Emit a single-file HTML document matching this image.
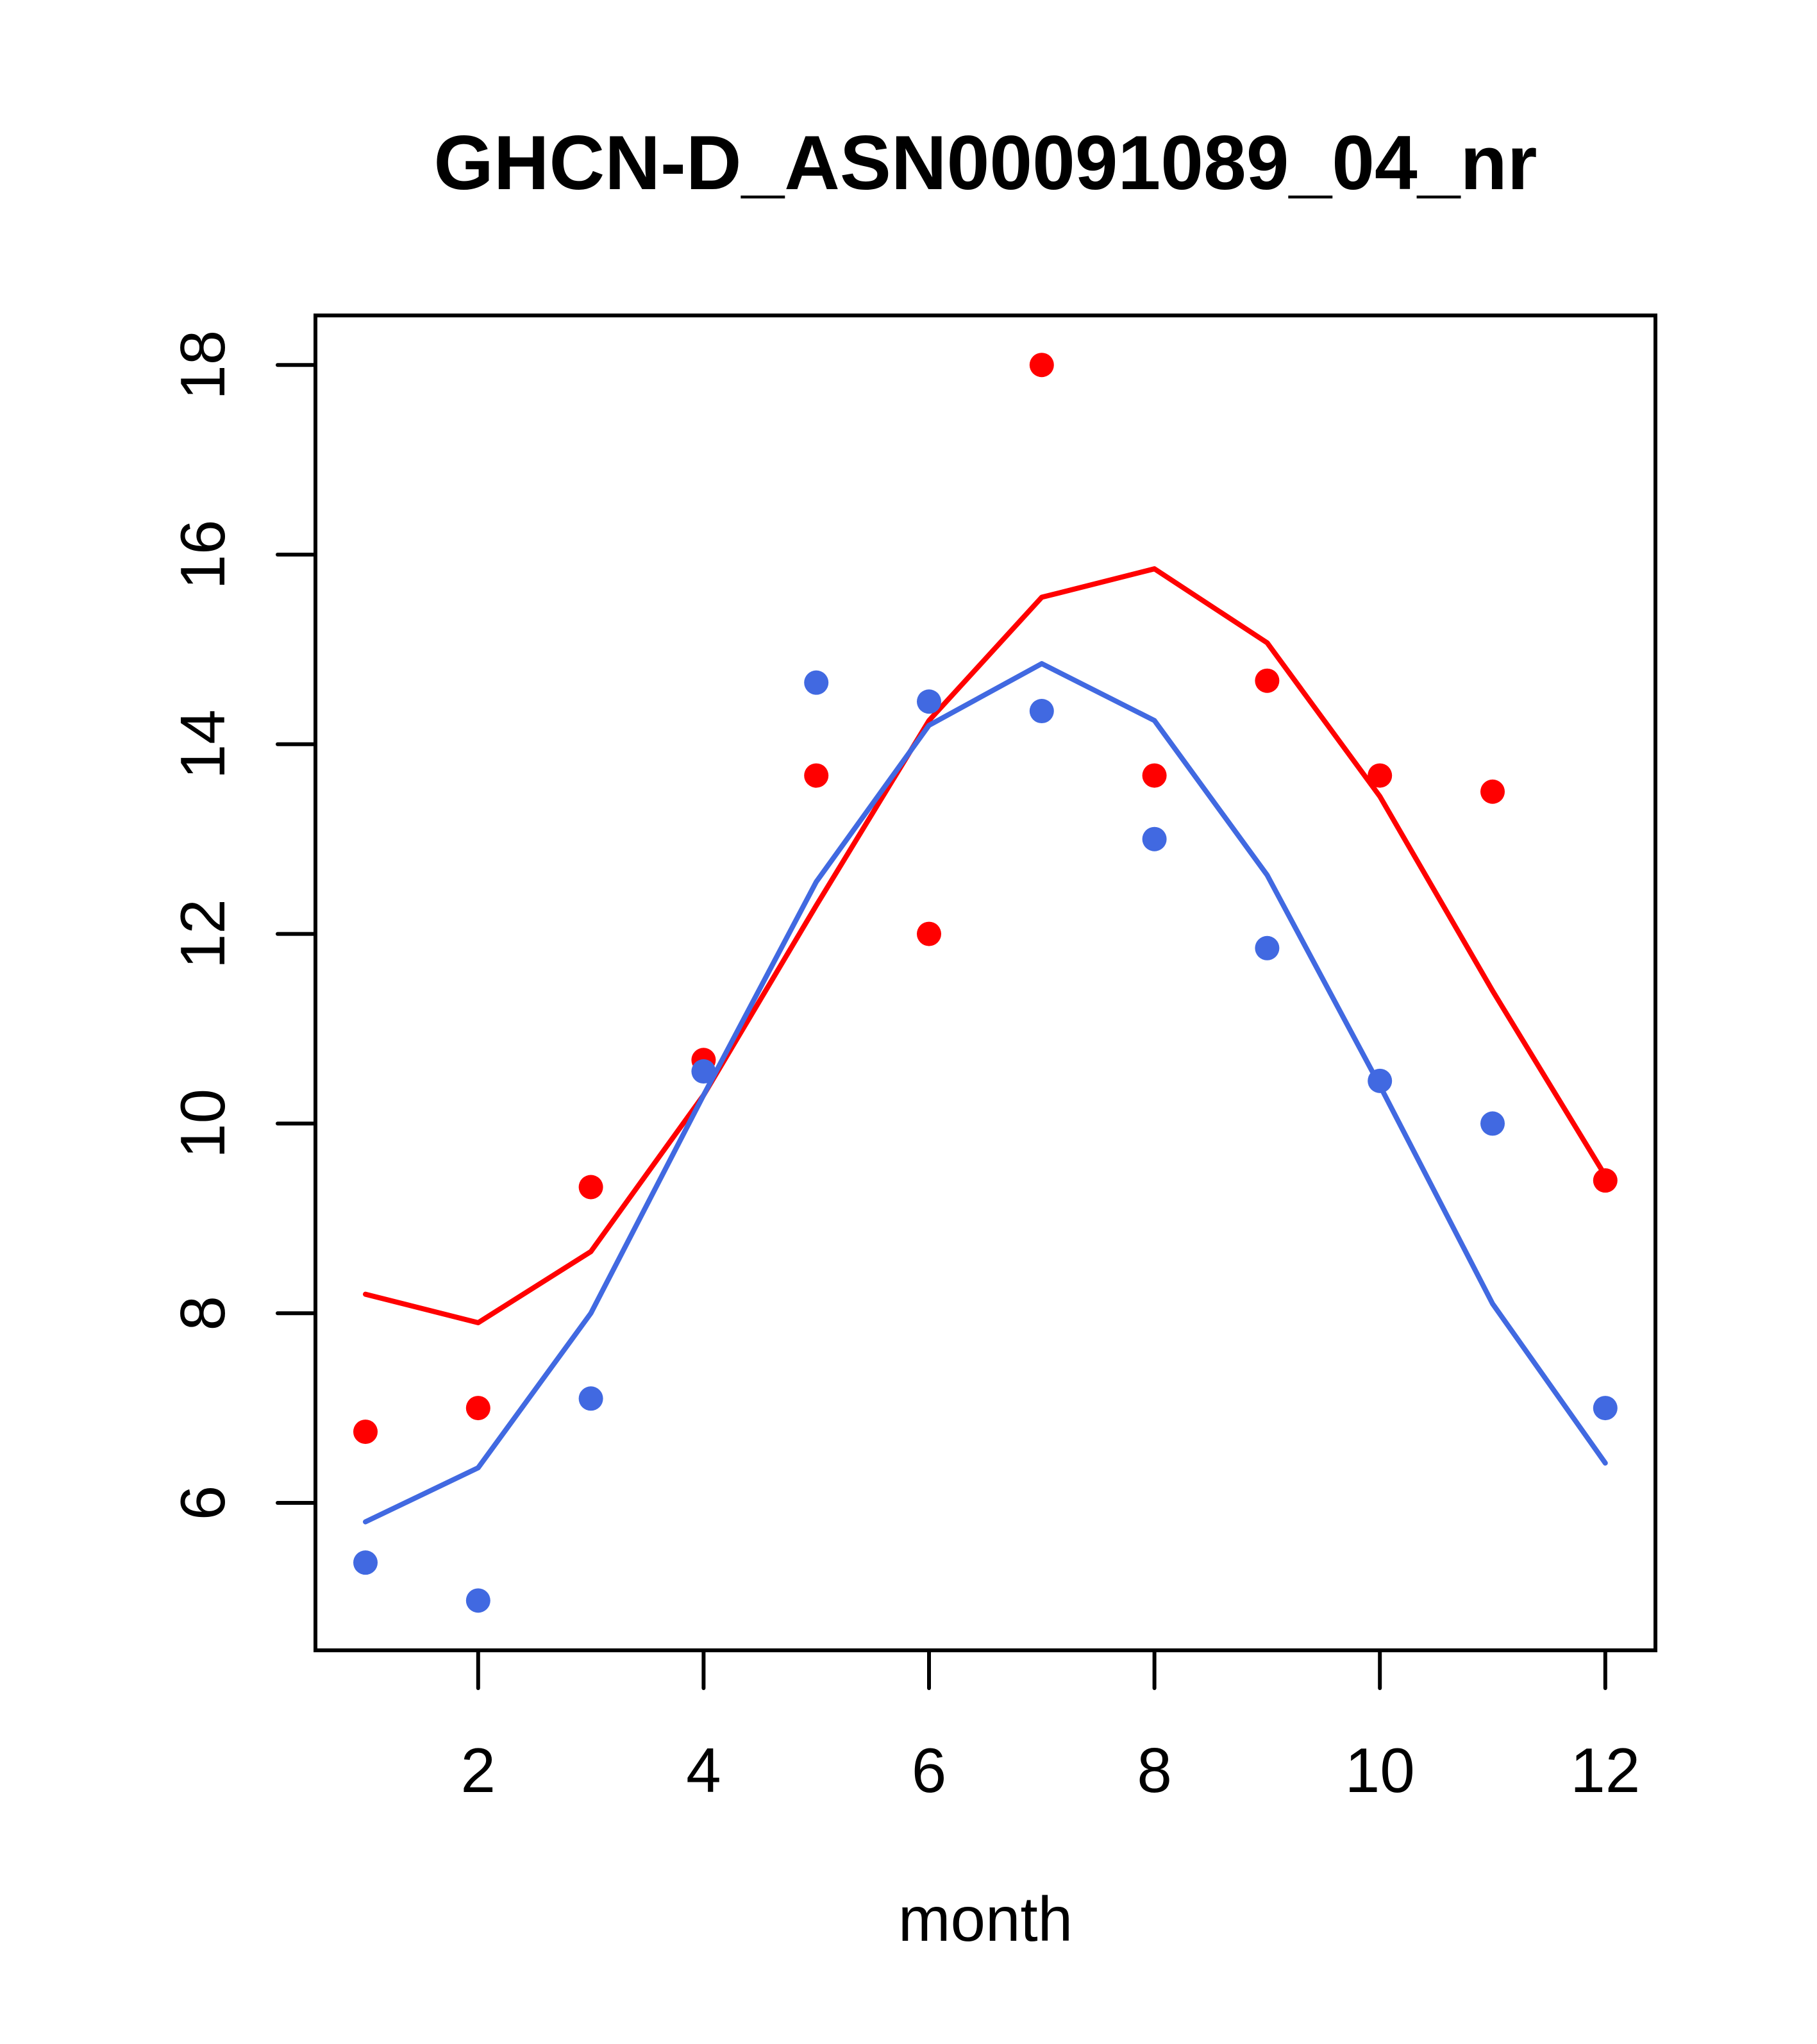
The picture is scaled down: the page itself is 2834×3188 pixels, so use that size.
<!DOCTYPE html>
<html><head><meta charset="utf-8"><style>html,body{margin:0;padding:0;background:#fff}svg{display:block}</style></head>
<body>
<svg id="chart" width="2834" height="3188" xmlns="http://www.w3.org/2000/svg" font-family="Liberation Sans, sans-serif">
<text x="1537" y="295" font-size="120" font-weight="bold" text-anchor="middle">GHCN-D_ASN00091089_04_nr</text>
<text x="1537" y="3027" font-size="98" text-anchor="middle">month</text>
<g id="axes"></g>
<g id="marks"></g>
<rect x="492" y="492" width="2090" height="2082" fill="none" stroke="#000" stroke-width="6"/>
</svg>
<script>
const months = [1,2,3,4,5,6,7,8,9,10,11,12];
const redPoints = [6.75,7.0,9.33,10.67,13.67,12.0,18.0,13.67,14.67,13.67,13.5,9.4];
const bluePoints = [5.37,4.97,7.1,10.55,14.65,14.45,14.35,13.0,11.85,10.45,10.0,7.0];
const redLine = [8.2,7.9,8.65,10.3,12.3,14.25,15.55,15.85,15.07,13.45,11.4,9.45];
const blueLine = [5.8,6.37,8.0,10.3,12.55,14.2,14.85,14.25,12.62,10.4,8.1,6.42];
const xTicks = [2,4,6,8,10,12];
const yTicks = [6,8,10,12,14,16,18];

const NS='http://www.w3.org/2000/svg';
const xs = v => 570 + (v-1)*175.8;
const ys = v => 2344 - (v-6)*147.9;
const axes=document.getElementById('axes'), marks=document.getElementById('marks');
function mk(tag, attrs, parent){const e=document.createElementNS(NS,tag);for(const k in attrs)e.setAttribute(k,attrs[k]);parent.appendChild(e);return e;}

xTicks.forEach(t=>{
  const l=mk('line',{x1:xs(t),x2:xs(t),y1:2574,y2:2633,stroke:'#000','stroke-width':6,'stroke-linecap':'round'},axes);
  
  
  const tx=mk('text',{x:xs(t),y:2795,'font-size':98,'text-anchor':'middle'},axes);
  tx.textContent=t;
  
  
});
yTicks.forEach(t=>{
  const l=mk('line',{x1:433,x2:492,y1:ys(t),y2:ys(t),stroke:'#000','stroke-width':6,'stroke-linecap':'round'},axes);
  
  
  const tx=mk('text',{x:350,y:ys(t),'font-size':98,'text-anchor':'middle',transform:`rotate(-90 350 ${ys(t)})`},axes);
  tx.textContent=t;
  
  
});
function line(vals,color,name){
  const p=mk('polyline',{points:months.map((m,i)=>xs(m)+','+ys(vals[i])).join(' '),fill:'none',stroke:color,'stroke-width':8,'stroke-linecap':'round','stroke-linejoin':'round'},marks);
  
  
}
function pts(vals,color,name){
  months.forEach((m,i)=>{
    const c=mk('circle',{cx:xs(m),cy:ys(vals[i]),r:19,fill:color},marks);
    
    
  });
}
line(redLine,'#ff0000','red-line');
line(blueLine,'#4169e1','blue-line');
pts(redPoints,'#ff0000','red-point');
pts(bluePoints,'#4169e1','blue-point');
</script>
</body></html>
